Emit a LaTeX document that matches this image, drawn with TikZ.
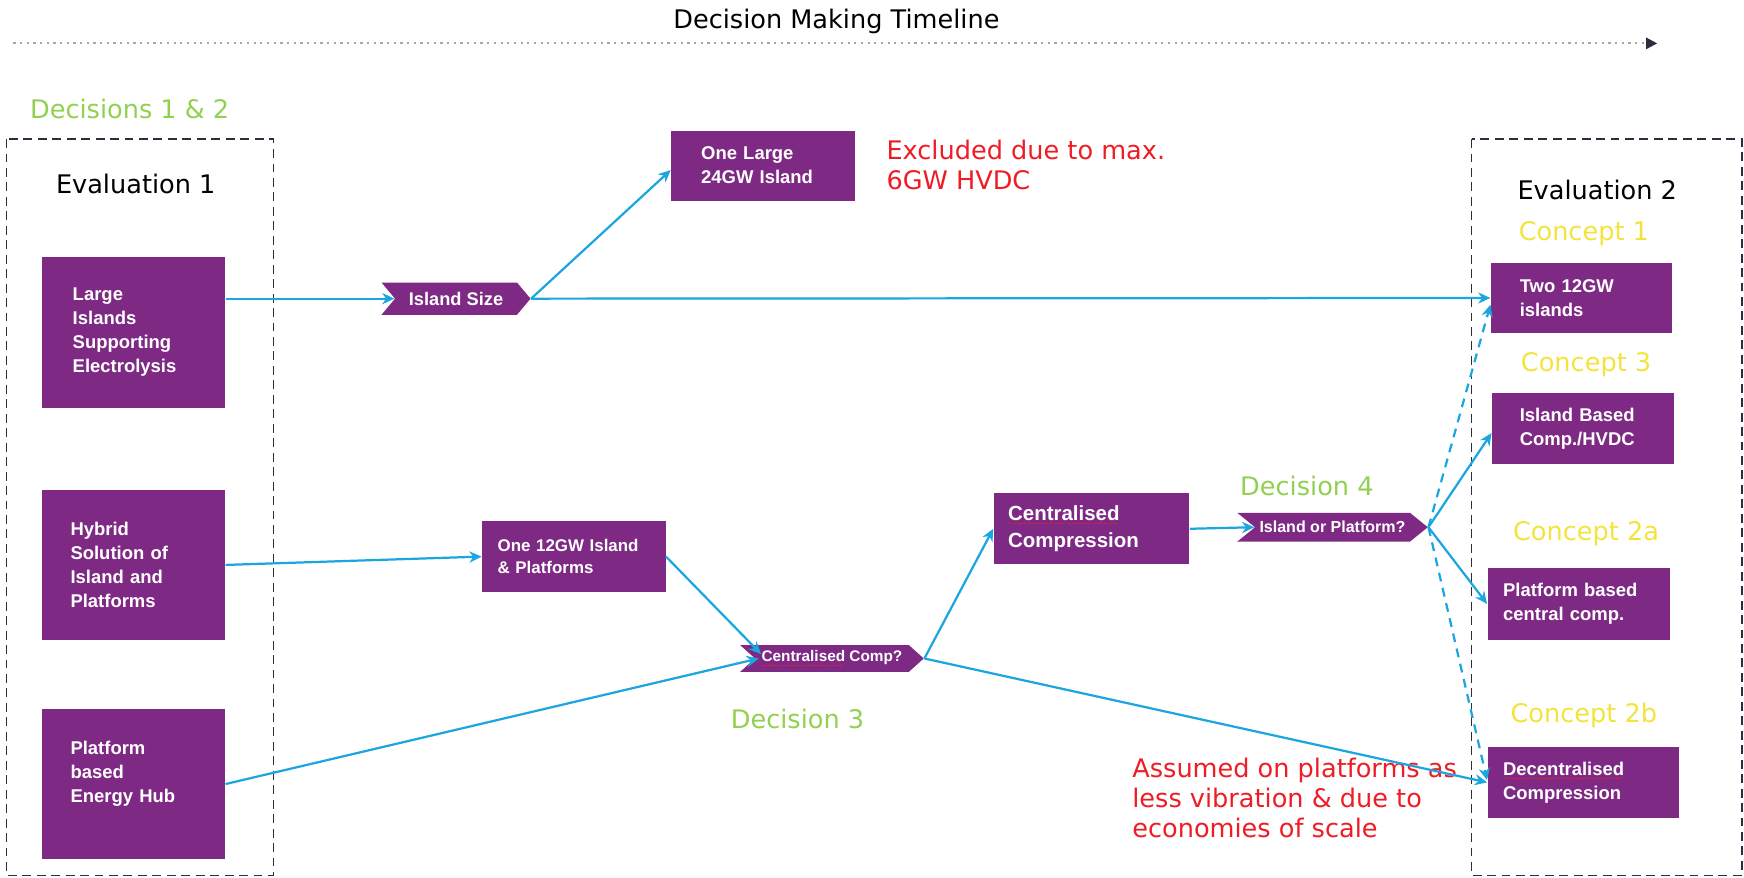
\documentclass[tikz,border=0pt]{standalone}
\usepackage{fontspec}
\setmainfont{DejaVu Sans}
\newfontfamily\boxfont{Liberation Sans}
\usetikzlibrary{arrows.meta,shapes.symbols}

\definecolor{boxpurple}{HTML}{7E2A84}
\definecolor{linkblue}{HTML}{1BA6E0}
\definecolor{decgreen}{HTML}{92D050}
\definecolor{conyellow}{HTML}{F2E43C}
\definecolor{notered}{HTML}{EE1C25}
\definecolor{framegray}{HTML}{2F2C40}

\newlength\spellwd
\newcommand{\spellmark}[1]{\settowidth{\spellwd}{#1}\rlap{\color{notered}\raisebox{-1.9pt}{\hbox to\spellwd{\leaders\hbox to 1.3pt{\hss\rule{0.8pt}{0.6pt}\hss}\hfill}}}#1}

\tikzset{
  pbox/.style={fill=boxpurple, text=white, anchor=north west, align=left, inner ysep=0pt,
    font=\boxfont\bfseries\fontsize{8.3}{10.8}\selectfont},
  pchev/.style={signal, signal from=west, signal to=east, fill=boxpurple, text=white,
    inner ysep=0pt, inner xsep=2pt},
  conn/.style={draw=linkblue, line width=1pt, -{Stealth[length=5.5pt,width=5pt]}},
  maybe/.style={conn, dash pattern=on 4pt off 3pt},
  frame/.style={draw=framegray, line width=0.7pt, dash pattern=on 4pt off 2.5pt},
  heading/.style={font=\fontsize{11.5}{13.5}\selectfont},
  decision/.style={heading, text=decgreen},
  concept/.style={heading, text=conyellow},
  remark/.style={heading, text=notered, align=left, anchor=west},
}

\begin{document}
\begin{tikzpicture}[x=0.5pt, y=-0.5pt]
  \useasboundingbox (0,0) rectangle (1568,789);

  % timeline
  \node[heading] (title) at (752,19) {Decision Making Timeline};
  \coordinate (tlstart) at (12,39);
  \coordinate (tlend) at (1490,39);
  \draw[gray!70, line width=1pt, dash pattern=on 1pt off 2pt,
    -{Triangle[length=5pt,width=5pt,color=framegray]}] (tlstart) -- (tlend);

  % evaluation frames
  \draw[frame] (6,125) rectangle (246,787);
  \draw[frame] (1323,125) rectangle (1566,787);
  \node[decision, anchor=west] (dec12) at (20,98) {Decisions 1 \& 2};
  \node[heading] (eval1) at (122,165) {Evaluation 1};
  \node[heading] (eval2) at (1436,171) {Evaluation 2};

  % first evaluation
  \node[pbox, minimum height=67.5pt, text width=54.5pt, inner xsep=14pt] (large) at (37,231) {Large\\Islands\\Supporting\\Electrolysis};
  \node[pbox, minimum height=67.5pt, text width=56.5pt, inner xsep=13pt] (hybrid) at (37,440) {Hybrid\\Solution of\\Island and\\Platforms};
  \node[pbox, minimum height=67.5pt, text width=56.5pt, inner xsep=13pt] (hub) at (37,637) {Platform\\based\\Energy Hub\\\mbox{}};

  % decisions
  \node[pchev, minimum width=67pt, minimum height=14.5pt, signal pointer angle=100,
    font=\boxfont\bfseries\fontsize{8.2}{10}\selectfont] (isize) at (410,268.5) {Island Size};
  \node[pbox, minimum height=31.5pt, text width=55.5pt, inner xsep=13.5pt] (onelarge) at (603,117) {One Large\\24GW Island};
  \node[remark] (excl) at (790,148) {Excluded due to max.\\6GW HVDC};
  \node[pbox, minimum height=32pt, text width=68.5pt, inner xsep=7pt,
    font=\boxfont\bfseries\fontsize{7.6}{10.2}\selectfont] (one12) at (433,468) {One 12GW Island\\\& Platforms};
  \node[pchev, minimum width=82.5pt, minimum height=12pt, signal pointer angle=84,
    font=\boxfont\bfseries\fontsize{6.9}{8}\selectfont] (ccq) at (748,592) {\spellmark{Centralised} Comp?};
  \node[decision] (dec3) at (717,646) {Decision 3};
  \node[pbox, minimum height=32pt, text width=75pt, inner xsep=6.5pt,
    font=\boxfont\bfseries\fontsize{9.2}{12.5}\selectfont] (ccomp) at (893,443) {\spellmark{Centralised}\\Compression};
  \node[decision] (dec4) at (1175,437) {Decision 4};
  \node[pchev, minimum width=81pt, minimum height=13pt, signal pointer angle=78,
    font=\boxfont\bfseries\fontsize{7.2}{8}\selectfont] (iop) at (1198,474) {Island or Platform?};
  \node[remark] (assum) at (1011,717) {Assumed on platforms as\\less vibration \& due to\\economies of scale};

  % second evaluation
  \node[concept] (c1) at (1424,210) {Concept 1};
  \node[pbox, minimum height=31.5pt, text width=55.5pt, inner xsep=13pt] (two) at (1340,236) {Two 12GW\\islands};
  \node[concept] (c3) at (1426,328) {Concept 3};
  \node[pbox, minimum height=32pt, text width=57pt, inner xsep=12.5pt] (islcomp) at (1341,353) {Island Based\\Comp./HVDC};
  \node[concept] (c2a) at (1426,480) {Concept 2a};
  \node[pbox, minimum height=32.5pt, text width=68pt, inner xsep=7pt] (platcomp) at (1337,510) {Platform based\\central comp.};
  \node[concept] (c2b) at (1424,643) {Concept 2b};
  \node[pbox, minimum height=32pt, text width=72pt, inner xsep=7pt] (decomp) at (1337,671) {\spellmark{Decentralised}\\Compression};

  % links
  \draw[conn] (large.east |- isize.west) -- (isize.west);
  \draw[conn] (isize.east) -- ([yshift=-2pt]onelarge.west);
  \draw[conn] (isize.east) -- (two.west);
  \draw[conn] (hybrid.east) -- (one12.west);
  \draw[conn] (one12.east) -- ([shift={(3pt,2pt)}]ccq.west);
  \draw[conn] (hub.east) -- ([shift={(2pt,0pt)}]ccq.west);
  \draw[conn] (ccq.east) -- (ccomp.west);
  \draw[conn] (ccq.east) -- (decomp.west);
  \draw[conn] (ccomp.east) -- (iop.west);
  \draw[maybe] (iop.east) -- ([yshift=-3pt]two.west);
  \draw[conn] (iop.east) -- ([yshift=-2pt]islcomp.west);
  \draw[conn] (iop.east) -- (platcomp.west);
  \draw[maybe] (iop.east) -- ([yshift=1pt]decomp.west);
\end{tikzpicture}
\end{document}
